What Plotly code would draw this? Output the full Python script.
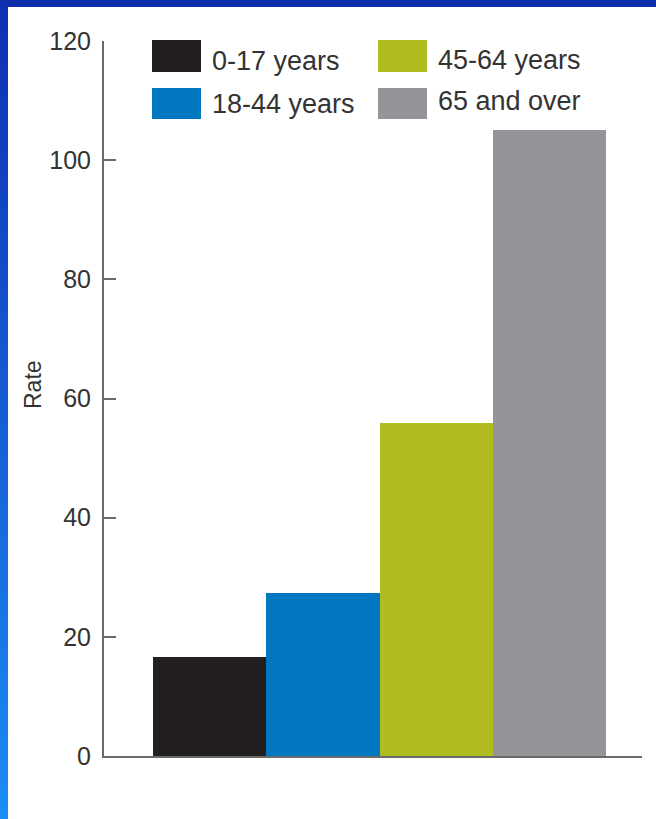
import base64
import plotly.graph_objects as go

# ---- data ----
categories = ["0-17 years", "18-44 years", "45-64 years", "65 and over"]
rates = [16.6, 27.3, 55.9, 105.1]
bar_colors = ["#231f20", "#0077be", "#b0bc22", "#939598"]
y_ticks = [0, 20, 40, 60, 80, 100, 120]
y_title = "Rate"

# ---- layout geometry (pixels) ----
W, H = 656, 819
L, R, T, B = 104, 642, 41, 756   # plot area edges
PW, PH = R - L, B - T


def xp(px):
    return (px - L) / PW


def yp(py):
    return (B - py) / PH


fig = go.Figure()
fig.add_trace(go.Bar(
    x=list(range(len(categories))),
    y=rates,
    width=1.0,
    marker=dict(color=bar_colors, line=dict(width=0)),
    text=categories,
    hoverinfo="text+y",
    textposition="none",
    showlegend=False,
))

# background frame (blue gradient border + white panel)
svg = f'''<svg xmlns="http://www.w3.org/2000/svg" width="{W}" height="{H}" viewBox="0 0 {W} {H}" preserveAspectRatio="none">
<defs><linearGradient id="g" x1="0" y1="0" x2="0" y2="1">
<stop offset="0" stop-color="#0f2fae"/><stop offset="1" stop-color="#1b8cf8"/></linearGradient></defs>
<rect x="0" y="0" width="{W}" height="{H}" fill="url(#g)"/>
<rect x="0" y="0" width="{W}" height="7" fill="#0f2fae"/>
<rect x="8" y="7" width="{W-8}" height="{H-7}" fill="#ffffff"/>
</svg>'''
src = "data:image/svg+xml;base64," + base64.b64encode(svg.encode()).decode()

FONT = "Liberation Sans, Arial, sans-serif"

# custom legend: swatches + labels, two columns
legend_cols_x = [152, 378]
legend_rows_y = [(40, 72), (88, 119)]
label_centers = [61, 104, 60, 101]
shapes = []
annotations = []
for i, (cat, col) in enumerate(zip(categories, bar_colors)):
    c = 0 if i < 2 else 1
    r = i % 2
    x0 = legend_cols_x[c]
    y0, y1 = legend_rows_y[r]
    shapes.append(dict(type="rect", xref="paper", yref="paper",
                       x0=xp(x0), x1=xp(x0 + 49), y0=yp(y1), y1=yp(y0),
                       fillcolor=col, line=dict(width=0), layer="above"))
    annotations.append(dict(text=cat, xref="paper", yref="paper",
                            x=xp(x0 + 58), y=yp(label_centers[i]),
                            xanchor="left", yanchor="middle", showarrow=False,
                            font=dict(family=FONT, size=27, color="#333333")))

annotations.append(dict(text=y_title, xref="paper", yref="paper",
                        x=xp(33), y=yp(385), textangle=-90,
                        xanchor="center", yanchor="middle", showarrow=False,
                        font=dict(family=FONT, size=23, color="#333333")))

fig.update_layout(
    width=W, height=H,
    margin=dict(l=L, r=W - R, t=T, b=H - B, pad=0),
    paper_bgcolor="#ffffff",
    plot_bgcolor="rgba(0,0,0,0)",
    bargap=0,
    showlegend=False,
    images=[dict(source=src, xref="paper", yref="paper",
                 x=xp(0), y=yp(0), sizex=W / PW, sizey=H / PH,
                 xanchor="left", yanchor="top", sizing="stretch",
                 layer="below")],
    shapes=shapes,
    annotations=annotations,
    xaxis=dict(range=[-0.933, 3.818], showgrid=False, zeroline=False,
               showticklabels=False, ticks="", showline=True,
               linecolor="#6a6a6a", linewidth=2, fixedrange=True),
    yaxis=dict(range=[0, 120], tickvals=y_ticks, ticktext=[str(v) for v in y_ticks],
               showgrid=False, zeroline=False, ticks="inside", ticklen=12,
               tickwidth=2, tickcolor="#6a6a6a", showline=True,
               linecolor="#6a6a6a", linewidth=2, ticklabelstandoff=6,
               tickfont=dict(family=FONT, size=25, color="#333333"),
               fixedrange=True),
)

fig.write_html("out.html")
